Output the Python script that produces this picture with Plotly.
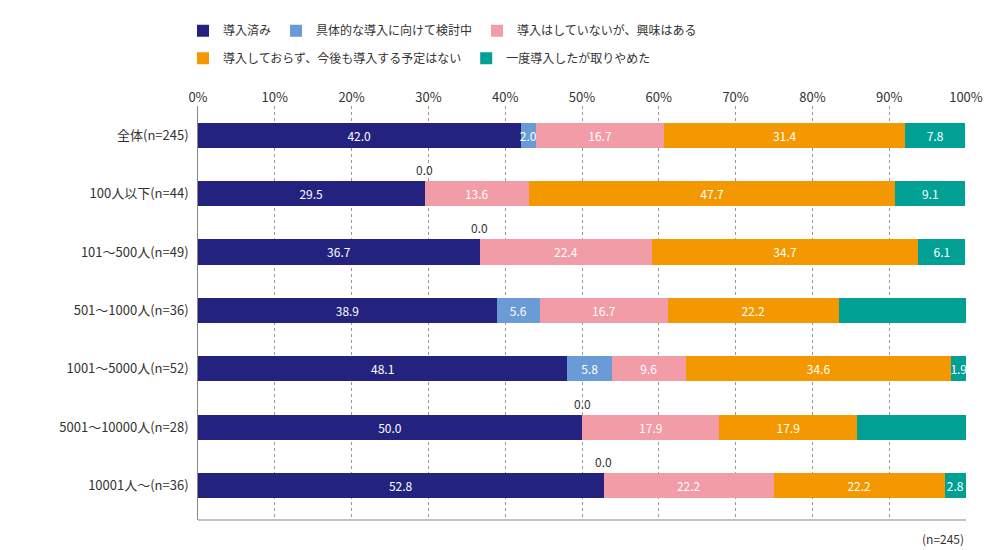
import plotly.graph_objects as go

categories = ["全体(n=245)", "100人以下(n=44)", "101～500人(n=49)", "501～1000人(n=36)",
              "1001～5000人(n=52)", "5001～10000人(n=28)", "10001人～(n=36)"]
series_names = ["導入済み", "具体的な導入に向けて検討中", "導入はしていないが、興味はある",
                "導入しておらず、今後も導入する予定はない", "一度導入したが取りやめた"]
colors = ["#23237f", "#6b9bd6", "#f19ca7", "#f39800", "#00a095"]
values = [
    [42.0, 29.5, 36.7, 38.9, 48.1, 50.0, 52.8],
    [2.0, 0.0, 0.0, 5.6, 5.8, 0.0, 0.0],
    [16.7, 13.6, 22.4, 16.7, 9.6, 17.9, 22.2],
    [31.4, 47.7, 34.7, 22.2, 34.6, 17.9, 22.2],
    [7.8, 9.1, 6.1, 16.7, 1.9, 14.3, 2.8],
]

fig = go.Figure()
for k, (name, col, vals) in enumerate(zip(series_names, colors, values)):
    fig.add_trace(go.Bar(
        y=categories, x=vals, name=name, orientation="h", marker_color=col,
        marker_line_width=0, width=0.43,
        legend="legend" if k < 3 else "legend2",
        text=["" if v == 0 else f"{v:.1f}" for v in vals],
        textposition="inside", insidetextanchor="middle", textangle=0,
        textfont=dict(color="white", size=12), cliponaxis=False,
    ))

# zero-value labels shown above the bar
for i, cat in enumerate(categories):
    if values[1][i] == 0:
        fig.add_annotation(x=values[0][i], y=cat, text="0.0", showarrow=False,
                           yshift=24, font=dict(size=12, color="#333"))

fig.add_annotation(x=1, y=-0.02, xref="paper", yref="paper", text="(n=245)",
                   showarrow=False, xanchor="right", yanchor="top",
                   font=dict(size=12, color="#333"))

legend_style = dict(orientation="h", xref="container", yref="container",
                    xanchor="left", yanchor="top", font=dict(size=12),
                    traceorder="normal", itemwidth=30, bgcolor="rgba(0,0,0,0)")

fig.update_layout(
    barmode="stack", width=1000, height=550,
    margin=dict(l=190, r=42, t=98, b=38, autoexpand=False),
    plot_bgcolor="white", paper_bgcolor="white",
    font=dict(family="Noto Sans CJK JP", size=13, color="#333"),
    uniformtext=dict(minsize=12, mode="show"),
    legend=dict(x=0.175, y=0.985, **legend_style),
    legend2=dict(x=0.175, y=0.935, **legend_style),
    xaxis=dict(side="top", range=[0, 100], dtick=10, ticksuffix="%",
               showgrid=True, gridcolor="#999", griddash="dot", gridwidth=1,
               zeroline=False, showline=False, tickfont=dict(size=13),
               automargin=False),
    yaxis=dict(autorange="reversed", showline=True, linecolor="#888",
               ticks="", ticksuffix="  ", tickfont=dict(size=13), automargin=False),
    shapes=[dict(type="line", xref="paper", yref="paper", x0=0, x1=1, y0=0, y1=0,
                 line=dict(color="#888", width=1))],
)
fig.write_html("out.html")
